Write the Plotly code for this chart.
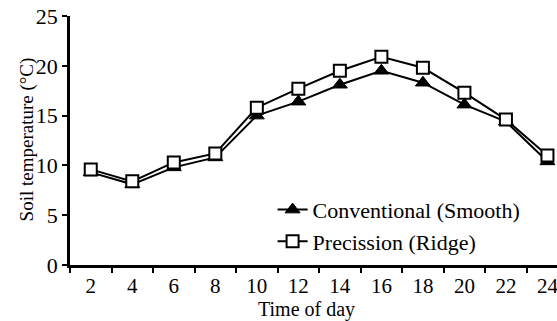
import plotly.graph_objects as go

hours = ["2", "4", "6", "8", "10", "12", "14", "16", "18", "20", "22", "24"]
conventional = [9.3, 8.1, 9.8, 10.8, 15.0, 16.4, 18.1, 19.5, 18.3, 16.1, 14.4, 10.4]
precission = [9.6, 8.4, 10.3, 11.2, 15.8, 17.7, 19.5, 20.9, 19.8, 17.3, 14.6, 11.0]
y_ticks = [0, 5, 10, 15, 20, 25]

FONT = "Liberation Serif, Times New Roman, serif"

fig = go.Figure()
fig.add_trace(go.Scatter(
    x=hours, y=conventional, name="Conventional (Smooth)",
    mode="lines+markers",
    line=dict(color="black", width=2),
    marker=dict(symbol="triangle-up", size=13, color="black",
                line=dict(color="black", width=1)),
))
fig.add_trace(go.Scatter(
    x=hours, y=precission, name="Precission (Ridge)",
    mode="lines+markers",
    line=dict(color="black", width=2),
    marker=dict(symbol="square", size=12, color="white",
                line=dict(color="black", width=2)),
))

fig.update_layout(
    width=557, height=321,
    margin=dict(l=70, r=0, t=16, b=56),
    paper_bgcolor="white", plot_bgcolor="white",
    font=dict(family=FONT, size=21, color="black"),
    showlegend=True,
    legend=dict(x=0.416, y=0.306, xanchor="left", yanchor="top",
                bgcolor="rgba(0,0,0,0)", font=dict(size=22, family=FONT),
                itemwidth=30, tracegroupgap=0),
    xaxis=dict(
        type="category",
        range=[-0.5, 11.23],
        tickson="boundaries",
        ticks="outside", ticklen=5, tickwidth=2, tickcolor="black",
        showline=True, linecolor="black", linewidth=2.5,
        showgrid=False, zeroline=False, automargin=False,
        tickfont=dict(size=21, family=FONT),
    ),
    yaxis=dict(
        range=[0, 25],
        tickvals=y_ticks,
        ticks="outside", ticklen=5, tickwidth=2, tickcolor="black",
        showline=True, linecolor="black", linewidth=2.5,
        showgrid=False, zeroline=False, automargin=False,
        tickfont=dict(size=22, family=FONT),
    ),
    annotations=[
        dict(text="Time of day", xref="paper", yref="paper",
             x=0.485, y=-0.179, xanchor="center", yanchor="middle",
             showarrow=False, font=dict(size=20, family=FONT)),
        dict(text="Soil temperature (°C)", xref="paper", yref="paper",
             x=-0.088, y=0.505, xanchor="center", yanchor="middle",
             textangle=-90, showarrow=False, font=dict(size=19, family=FONT)),
    ],
)

fig.write_html(
    "out.html",
    config={"displayModeBar": False},
    post_script="document.body.style.margin='0';document.body.style.overflow='hidden';",
)
